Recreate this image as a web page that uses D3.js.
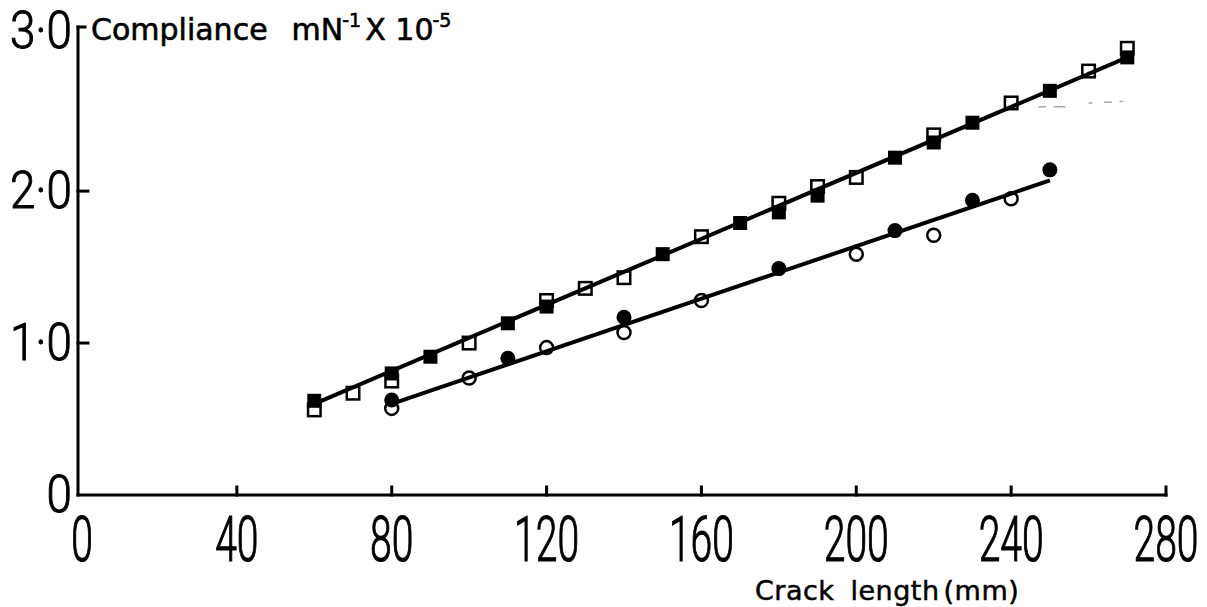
<!DOCTYPE html>
<html>
<head>
<meta charset="utf-8">
<script src="https://cdn.jsdelivr.net/npm/d3@7"></script>
<style>
  body { margin: 0; background: #fff; }
  svg { display: block; }
</style>
</head>
<body>
<svg id="chart" width="1207" height="607"></svg>
<script>
// Compliance (mN^-1 x 10^-5) against crack length (mm)
const openSquareX   = [60, 70, 80, 100, 120, 130, 140, 160, 180, 190, 200, 220, 240, 260, 270];
const openSquareY   = [0.56, 0.67, 0.75, 1.00, 1.28, 1.36, 1.43, 1.70, 1.92, 2.03, 2.09, 2.37, 2.58, 2.79, 2.94];
const filledSquareX = [60, 80, 90, 110, 120, 150, 170, 180, 190, 210, 220, 230, 250, 270];
const filledSquareY = [0.62, 0.80, 0.91, 1.13, 1.24, 1.585, 1.79, 1.86, 1.97, 2.22, 2.32, 2.45, 2.66, 2.88];
const openCircleX   = [80, 100, 120, 140, 160, 200, 220, 240];
const openCircleY   = [0.57, 0.77, 0.97, 1.07, 1.28, 1.585, 1.71, 1.95];
const filledCircleX = [80, 110, 140, 180, 210, 230, 250];
const filledCircleY = [0.625, 0.90, 1.17, 1.49, 1.74, 1.94, 2.14];

// fitted straight lines through each specimen set
const upperFitX = [60, 270];
const upperFitY = [0.60, 2.88];
const lowerFitX = [80, 250];
const lowerFitY = [0.60, 2.07];

// faint broken trace near the upper line's end
const traceX = [247, 249, 251, 254, 260, 261, 264, 266, 268, 269];
const traceY = [2.555, 2.555, 2.555, 2.555, 2.58, 2.58, 2.585, 2.585, 2.59, 2.59];

const xTicks = [0, 40, 80, 120, 160, 200, 240, 280];
const xTickLabels = ["0", "40", "80", "120", "160", "200", "240", "280"];
const yTicks = [0, 1, 2, 3];
const yTickLabels = ["0", "1·0", "2·0", "3·0"];

const svg = d3.select("#chart");
const x = d3.scaleLinear().domain([0, 280]).range([82, 1166]);
const y = d3.scaleLinear().domain([0, 3.08]).range([495, 27]);
const axisX = x(0) - 4;   // vertical axis line sits just left of x = 0
const ink = "#000";
const tickFont = "Roboto, 'DejaVu Sans', sans-serif";
const titleFont = "'DejaVu Sans', Roboto, sans-serif";

// ---- axes ----
const axes = svg.append("g").attr("stroke", ink).attr("stroke-width", 3).attr("fill", "none")
  .attr("stroke-linecap", "square");
axes.append("line").attr("x1", axisX).attr("x2", x(280)).attr("y1", y(0)).attr("y2", y(0));
axes.append("line").attr("x1", axisX).attr("x2", axisX).attr("y1", y(0)).attr("y2", y(3.08));
// small bracket tick at the top of the vertical axis
axes.append("line").attr("x1", axisX).attr("x2", axisX + 7).attr("y1", y(3.08)).attr("y2", y(3.08));
// x ticks point upward
axes.selectAll(".xt").data(xTicks.filter(d => d > 0)).join("line")
  .attr("x1", d => x(d)).attr("x2", d => x(d))
  .attr("y1", y(0)).attr("y2", y(0) - 8);
// y ticks point right
axes.selectAll(".yt").data([1, 2]).join("line")
  .attr("x1", axisX).attr("x2", axisX + 10)
  .attr("y1", d => y(d)).attr("y2", d => y(d));

// x tick labels (condensed lettering)
svg.append("g").selectAll("g").data(xTicks).join("g")
  .attr("transform", d => `translate(${x(d)},561) scale(0.62,1)`)
  .append("text")
  .attr("text-anchor", "middle")
  .attr("font-family", tickFont)
  .attr("font-weight", 300)
  .attr("font-size", 63)
  .attr("fill", ink)
  .attr("stroke", ink)
  .attr("stroke-width", 1.2)
  .text((d, i) => xTickLabels[i]);

// y tick labels
svg.append("g").selectAll("g").data(yTicks).join("g")
  .attr("transform", d => `translate(72,${y(d) + (d === 3 ? 9 : 17)}) scale(0.88,1)`)
  .append("text")
  .attr("text-anchor", "end")
  .attr("font-family", tickFont)
  .attr("font-weight", 300)
  .attr("font-size", 52)
  .attr("fill", ink)
  .attr("stroke", ink)
  .attr("stroke-width", 1)
  .text((d, i) => yTickLabels[i]);

// y axis title with superscripts
const yt = svg.append("text")
  .attr("x", 91).attr("y", 40)
  .attr("font-family", titleFont)
  .attr("font-size", 30)
  .attr("fill", ink)
  .attr("stroke", ink)
  .attr("stroke-width", 0.6);
yt.append("tspan").text("Compliance");
yt.append("tspan").attr("dx", 24).text("mN");
yt.append("tspan").attr("dy", -13).attr("dx", -1).attr("font-size", 19).text("-1");
yt.append("tspan").attr("dy", 13).attr("dx", 4).text("X 10");
yt.append("tspan").attr("dy", -13).attr("dx", -1).attr("font-size", 19).text("-5");

// x axis title
const xt = svg.append("text")
  .attr("x", 755).attr("y", 600)
  .attr("font-family", titleFont)
  .attr("font-size", 27)
  .attr("fill", ink)
  .attr("stroke", ink)
  .attr("stroke-width", 0.5)
  .attr("letter-spacing", 0.5);
xt.append("tspan").text("Crack");
xt.append("tspan").attr("dx", 16).text("length");
xt.append("tspan").attr("dx", 4).text("(mm)");

// ---- fitted lines ----
const line = d3.line().x(d => x(d[0])).y(d => y(d[1]));
const fits = [
  d3.zip(upperFitX, upperFitY),
  d3.zip(lowerFitX, lowerFitY)
];
svg.append("g").selectAll("path").data(fits).join("path")
  .attr("d", line)
  .attr("fill", "none")
  .attr("stroke", ink)
  .attr("stroke-width", 4);

// faint broken trace
svg.append("g").selectAll("line").data(d3.range(0, traceX.length, 2)).join("line")
  .attr("x1", i => x(traceX[i])).attr("x2", i => x(traceX[i + 1]))
  .attr("y1", i => y(traceY[i])).attr("y2", i => y(traceY[i + 1]))
  .attr("stroke", "#aaa").attr("stroke-width", 1.5);

// ---- markers ----
const sq = 15;
const marks = svg.append("g");
// open markers first, filled ones drawn over them
marks.selectAll(".os").data(d3.zip(openSquareX, openSquareY)).join("rect")
  .attr("x", d => x(d[0]) - sq / 2 + 1.25).attr("y", d => y(d[1]) - sq / 2 + 1.25)
  .attr("width", sq - 2.5).attr("height", sq - 2.5)
  .attr("fill", "none").attr("stroke", ink).attr("stroke-width", 2.5);
marks.selectAll(".oc").data(d3.zip(openCircleX, openCircleY)).join("circle")
  .attr("cx", d => x(d[0])).attr("cy", d => y(d[1])).attr("r", 6.5)
  .attr("fill", "none").attr("stroke", ink).attr("stroke-width", 2.5);
marks.selectAll(".fs").data(d3.zip(filledSquareX, filledSquareY)).join("rect")
  .attr("x", d => x(d[0]) - 7).attr("y", d => y(d[1]) - 7)
  .attr("width", 14).attr("height", 14)
  .attr("fill", ink);
marks.selectAll(".fc").data(d3.zip(filledCircleX, filledCircleY)).join("circle")
  .attr("cx", d => x(d[0])).attr("cy", d => y(d[1])).attr("r", 7.5)
  .attr("fill", ink);
</script>
</body>
</html>
